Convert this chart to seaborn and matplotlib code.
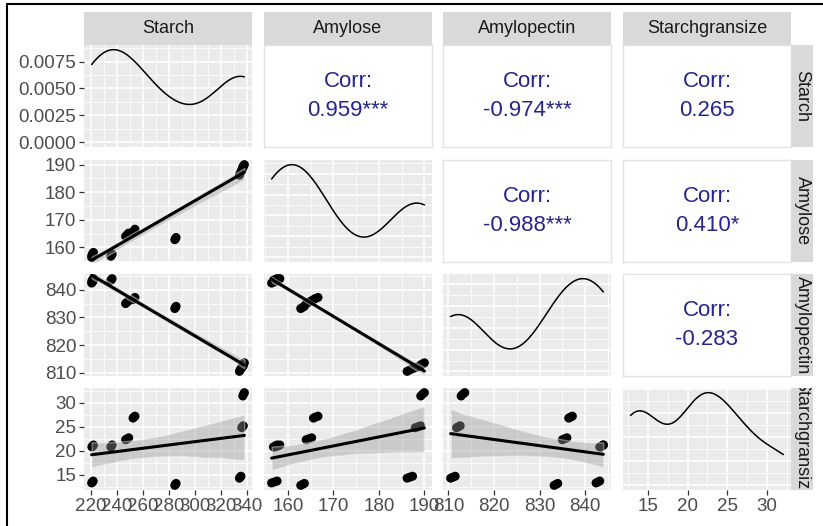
import numpy as np
import pandas as pd
import matplotlib
matplotlib.use("Agg")
import matplotlib.pyplot as plt
from matplotlib.ticker import MultipleLocator, AutoMinorLocator, FormatStrFormatter, MaxNLocator
import seaborn as sns

# values (9 groups x 3 reps)
variables = ["Starch", "Amylose", "Amylopectin", "Starchgransize"]
starch = [221.0, 221.6, 222.2, 220.8, 221.4, 222.0, 235.5, 236.0, 236.5,
          246.8, 248.0, 249.2, 252.5, 253.2, 254.0, 284.5, 285.0, 285.5,
          334.0, 334.6, 335.2, 335.8, 336.4, 337.0, 336.6, 337.2, 337.8]
amylose = [157.2, 157.8, 158.2, 156.4, 157.0, 157.6, 156.8, 157.2, 157.6,
           164.0, 164.6, 165.2, 165.6, 166.0, 166.6, 162.8, 163.2, 163.6,
           186.2, 186.8, 187.4, 188.0, 188.6, 189.2, 189.2, 189.6, 190.0]
amylopectin = [843.2, 843.6, 844.0, 842.4, 842.8, 843.2, 843.4, 843.7, 844.0,
               835.0, 835.5, 836.0, 836.4, 836.8, 837.2, 833.2, 833.6, 834.0,
               810.5, 811.0, 811.5, 811.8, 812.2, 812.6, 812.8, 813.2, 813.6]
starchgransize = [20.8, 21.0, 21.2, 13.3, 13.5, 13.7, 20.8, 21.0, 21.2,
                  22.3, 22.5, 22.7, 26.8, 27.0, 27.2, 12.8, 13.0, 13.2,
                  14.3, 14.5, 14.7, 24.8, 25.0, 25.2, 31.4, 31.8, 32.1]
corr_labels = {(0, 1): "0.959***", (0, 2): "-0.974***", (0, 3): "0.265",
               (1, 2): "-0.988***", (1, 3): "0.410*", (2, 3): "-0.283"}
tick_steps = [20, 10, 10, 5]

df = pd.DataFrame(dict(zip(variables, [starch, amylose, amylopectin, starchgransize])))

sns.set_theme(style="darkgrid", rc={"axes.facecolor": "#EBEBEB", "grid.color": "white"})
plt.rcParams["font.family"] = ["Liberation Sans", "DejaVu Sans"]

W, H = 823, 526
fig = plt.figure(figsize=(W / 100, H / 100), dpi=100)
fig.patch.set_facecolor("white")

col_left = [84, 264, 443, 623]
row_top = [45, 160, 274, 388]
pw, ph = 168, 102
tick_col = "#4D4D4D"


def box(x, y, w, h):
    return [x / W, 1 - (y + h) / H, w / W, h / H]


def lims(v):
    lo, hi = min(v), max(v)
    pad = (hi - lo) * 0.05
    return lo - pad, hi + pad


for i, yvar in enumerate(variables):
    for j, xvar in enumerate(variables):
        ax = fig.add_axes(box(col_left[j], row_top[i], pw, ph))
        for s in ax.spines.values():
            s.set_visible(False)

        if i < j:
            # correlation text panel
            ax.set_facecolor("white")
            ax.grid(False)
            for s in ax.spines.values():
                s.set_visible(True)
                s.set_color("#E3E3E3")
                s.set_linewidth(1)
            ax.set_xticks([])
            ax.set_yticks([])
            ax.text(0.5, 0.5, "Corr:\n" + corr_labels[(i, j)], transform=ax.transAxes,
                    ha="center", va="center", fontsize=16, color="#25258A", linespacing=1.55)
            continue

        if i == j:
            v = df[xvar]
            sd = v.std()
            iqr = np.subtract(*np.percentile(v, [75, 25]))
            adj = 0.9 * min(sd, iqr / 1.34) / sd  # like R's bw.nrd0
            sns.kdeplot(x=v, ax=ax, bw_adjust=adj, cut=0, color="black", lw=1.1)
            ymax = ax.lines[0].get_ydata().max()
            ax.set_ylim(-0.05 * ymax, 1.05 * ymax)
            if i == 0:
                ax.yaxis.set_major_locator(MultipleLocator(0.0025))
                ax.yaxis.set_major_formatter(FormatStrFormatter("%.4f"))
            else:
                ax.yaxis.set_major_locator(MaxNLocator(5))
        else:
            sns.scatterplot(data=df, x=xvar, y=yvar, ax=ax, color="black", s=42,
                            edgecolor="none", legend=False)
            sns.regplot(data=df, x=xvar, y=yvar, ax=ax, scatter=False, color="black",
                        ci=95, seed=1, line_kws={"lw": 2.2})
            band = ax.collections[-1]
            band.set_facecolor("#999999")
            band.set_alpha(0.4)
            ax.set_ylim(*lims(df[yvar]))
            ax.yaxis.set_major_locator(MultipleLocator(tick_steps[i]))

        ax.set_xlim(*lims(df[xvar]))
        ax.xaxis.set_major_locator(MultipleLocator(tick_steps[j]))
        ax.xaxis.set_minor_locator(AutoMinorLocator(2))
        ax.yaxis.set_minor_locator(AutoMinorLocator(2))
        ax.grid(which="major", color="white", lw=1.1)
        ax.grid(which="minor", color="white", lw=0.55)
        ax.set_xlabel("")
        ax.set_ylabel("")

        ax.tick_params(axis="both", which="minor", length=0)
        ax.tick_params(axis="x", which="major", bottom=(i == 3), labelbottom=(i == 3),
                       length=3.5, width=0.9, color="#333333", labelsize=13.5,
                       labelcolor=tick_col, pad=2)
        ax.tick_params(axis="y", which="major", left=(j == 0), labelleft=(j == 0),
                       length=3.5, width=0.9, color="#333333", labelsize=13.5,
                       labelcolor=tick_col, pad=2)

# strips on top and right
for j, name in enumerate(variables):
    sax = fig.add_axes(box(col_left[j], 12, pw, 33))
    sax.set_facecolor("#D9D9D9")
    sax.set_xticks([])
    sax.set_yticks([])
    sax.grid(False)
    for s in sax.spines.values():
        s.set_visible(False)
    sax.text(0.5, 0.5, name, transform=sax.transAxes, ha="center", va="center",
             fontsize=13, color="#1A1A1A")

for i, name in enumerate(variables):
    sax = fig.add_axes(box(791, row_top[i], 22, ph))
    sax.set_facecolor("#D9D9D9")
    sax.set_xticks([])
    sax.set_yticks([])
    sax.grid(False)
    for s in sax.spines.values():
        s.set_visible(False)
    sax.text(0.5, 0.5, name, transform=sax.transAxes, ha="center", va="center",
             rotation=-90, fontsize=13, color="#1A1A1A", clip_on=True)

# black frame at the top and left edge
fig.add_artist(plt.Line2D([7 / W, 7 / W], [0, 1 - 4 / H], color="black", lw=1.5,
                          transform=fig.transFigure))
fig.add_artist(plt.Line2D([7 / W, 1], [1 - 4 / H, 1 - 4 / H], color="black", lw=1.5,
                          transform=fig.transFigure))

fig.savefig("out.png", dpi=100)
